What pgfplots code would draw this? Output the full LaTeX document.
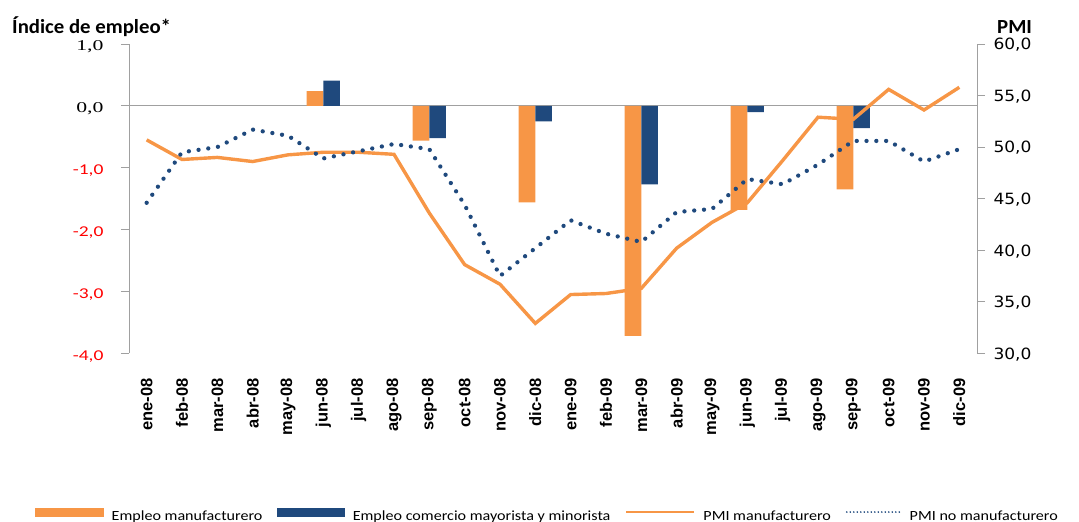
\documentclass[border=0pt]{standalone}
\usepackage{pgfplots}
\pgfplotsset{compat=1.18}
\usepackage{fontspec}
\setmainfont{Carlito}
\newfontfamily\titlefont[FakeStretch=1.04]{Carlito}
\newfontfamily\serifticks[FakeStretch=1.45]{Liberation Serif}
\newfontfamily\redticks[FakeStretch=1.3]{Carlito}
\newfontfamily\rightticks[FakeStretch=1.1]{DejaVu Sans}
\newfontfamily\xfont{Liberation Sans}
\newfontfamily\legfont[FakeStretch=1.15]{Carlito}
\definecolor{orng}{HTML}{F79646}
\definecolor{navy}{HTML}{1F497D}
\definecolor{axgray}{HTML}{A0A0A0}

\pgfplotstableread{
x pmim pmin
0 50.7 44.6
1 48.8 49.5
2 49.0 50.0
3 48.6 51.7
4 49.25 51.1
5 49.5 48.9
6 49.5 49.6
7 49.3 50.3
8 43.6 49.8
9 38.6 44.4
10 36.7 37.5
11 32.9 40.2
12 35.7 42.9
13 35.8 41.6
14 36.3 40.8
15 40.2 43.7
16 42.7 44.0
17 44.6 46.9
18 48.7 46.4
19 52.9 48.3
20 52.7 50.6
21 55.6 50.6
22 53.6 48.6
23 55.8 49.8
}\pmitable

\begin{document}
\begin{tikzpicture}
\begin{axis}[
  at={(129pt,-353.3pt)}, anchor=south west,
  scale only axis, width=848pt, height=309.3pt,
  xmin=-0.5, xmax=23.5, ymin=-4, ymax=1,
  axis y line*=left, axis x line*=bottom,
  x axis line style={draw=none},
  y axis line style={draw=axgray, line width=0.9pt},
  xtick={0,...,23},
  xticklabels={ene-08,feb-08,mar-08,abr-08,may-08,jun-08,jul-08,ago-08,sep-08,oct-08,nov-08,dic-08,ene-09,feb-09,mar-09,abr-09,may-09,jun-09,jul-09,ago-09,sep-09,oct-09,nov-09,dic-09},
  xtick style={draw=none},
  xticklabel style={font=\xfont\bfseries\fontsize{16.5}{16.5}\selectfont, yshift=-17pt, rotate=90, anchor=east, inner sep=0pt},
  ytick={-4,-3,-2,-1,0,1},
  yticklabels={{\redticks\color{red}-4,0},{\redticks\color{red}-3,0},{\redticks\color{red}-2,0},{\redticks\color{red}-1,0},{\serifticks 0,0},{\serifticks 1,0}},
  yticklabel style={font=\fontsize{15}{15}\selectfont, xshift=-14pt, yshift=-3pt},
  ytick style={draw=axgray, line width=0.9pt},
  tick align=outside, major tick length=8pt,
  ybar, bar width=0.47,
]
\draw[axgray, line width=0.9pt] (axis cs:-0.5,0) -- (axis cs:23.5,0);
\addplot[fill=orng, draw=none, bar shift=-0.235] coordinates {(5,0.24) (8,-0.56) (11,-1.56) (14,-3.72) (17,-1.68) (20,-1.35)};
\addplot[fill=navy, draw=none, bar shift=0.235] coordinates {(5,0.41) (8,-0.52) (11,-0.25) (14,-1.27) (17,-0.10) (20,-0.36)};
\end{axis}

\begin{axis}[
  at={(129pt,-353.3pt)}, anchor=south west,
  scale only axis, width=848pt, height=309.3pt,
  xmin=-0.5, xmax=23.5, ymin=30, ymax=60,
  axis y line*=right, axis x line=none,
  y axis line style={draw=axgray, line width=0.9pt},
  ytick={30,35,40,45,50,55,60},
  yticklabels={{30,0},{35,0},{40,0},{45,0},{50,0},{55,0},{60,0}},
  yticklabel style={font=\rightticks\fontsize{15.5}{15.5}\selectfont, xshift=5pt, yshift=-1pt},
  ytick style={draw=axgray, line width=0.9pt},
  tick align=outside, major tick length=8pt,
  legend columns=4,
  legend style={at={(-0.1108,-0.522)}, anchor=west, draw=none, fill=none, inner sep=0pt,
    font=\legfont\fontsize{14}{14}\selectfont,
    nodes={inner sep=0pt},
    /tikz/every odd column/.append style={column sep=8pt},
    /tikz/every even column/.append style={column sep=15pt}},
]
\addlegendimage{legend image code/.code={\fill[orng] (0pt,0pt) rectangle (68pt,8pt);}}
\addlegendentry{Empleo manufacturero}
\addlegendimage{legend image code/.code={\fill[navy] (0pt,0pt) rectangle (67pt,8pt);}}
\addlegendentry{Empleo comercio mayorista y minorista}
\addlegendimage{legend image code/.code={\draw[orng, line width=2pt] (0pt,4pt) -- (68pt,4pt);}}
\addlegendentry{PMI manufacturero}
\addlegendimage{legend image code/.code={\draw[navy, line width=1.8pt, line cap=round, dash pattern=on 0pt off 3.5pt] (1pt,4pt) -- (55pt,4pt);}}
\addlegendentry{PMI no manufacturero}
\addplot[orng, line width=3.4pt, forget plot] table[x=x, y=pmim] {\pmitable};
\addplot[navy, line width=4.3pt, line cap=round, dash pattern=on 0pt off 9.8pt, forget plot] table[x=x, y=pmin] {\pmitable};
\end{axis}

\node[anchor=base west, inner sep=0pt, font=\titlefont\bfseries\fontsize{20}{20}\selectfont] at (12pt,-33.5pt) {Índice de empleo*};
\node[anchor=base west, inner sep=0pt, font=\titlefont\bfseries\fontsize{20}{20}\selectfont] at (997pt,-33.3pt) {PMI};

\pgfresetboundingbox
\useasboundingbox (0pt,0pt) rectangle (1079pt,-522pt);
\end{tikzpicture}
\end{document}
